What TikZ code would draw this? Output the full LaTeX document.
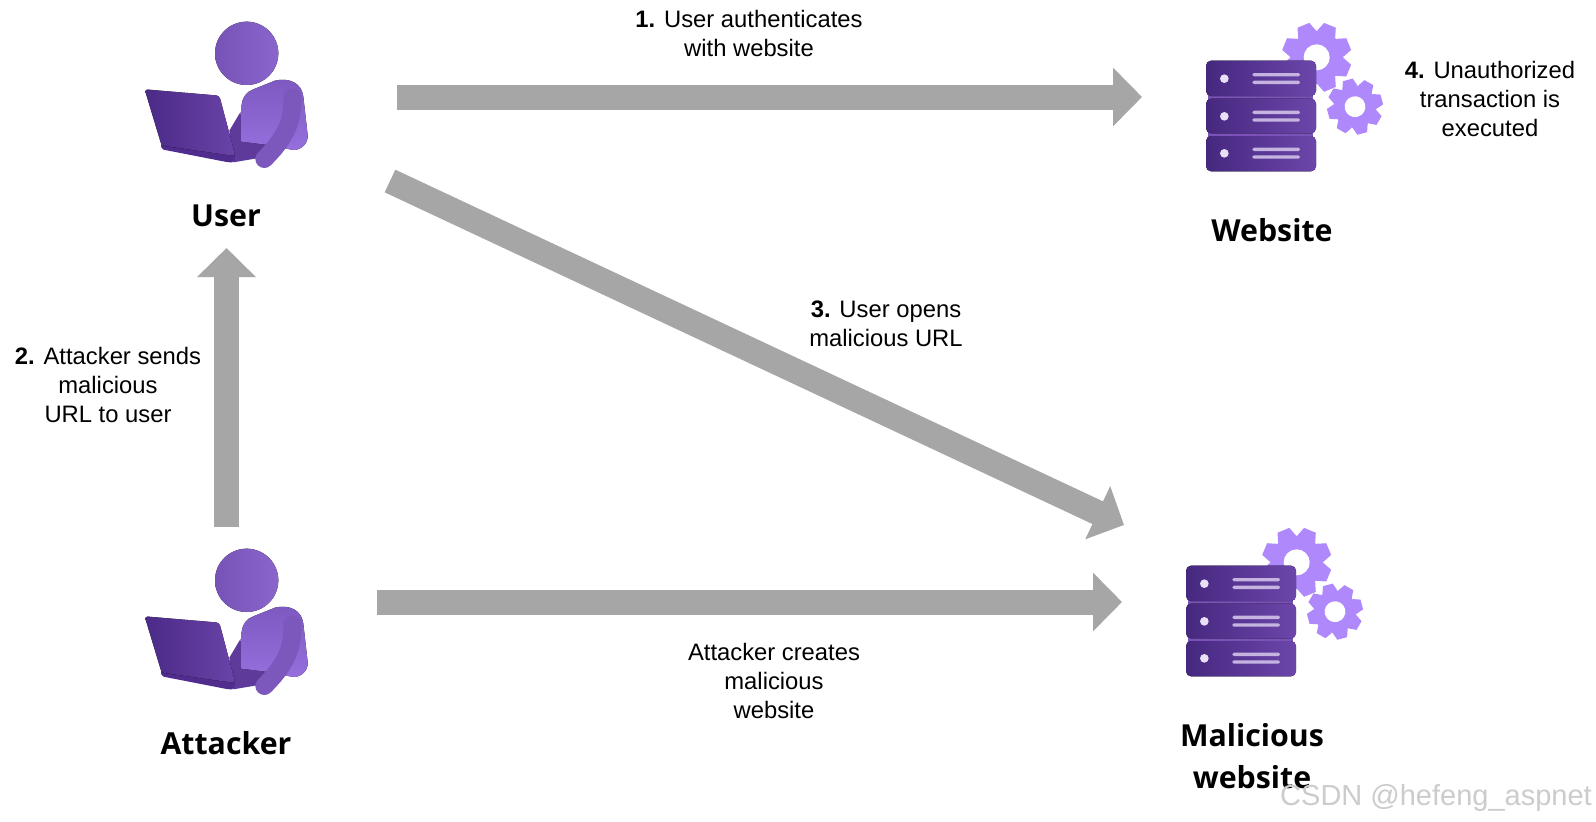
\documentclass[tikz,border=0pt]{standalone}
\usepackage{fontspec}
\setmainfont{Liberation Sans}
\newfontfamily\headfont{Open Sans}
\usetikzlibrary{arrows.meta}
\definecolor{flowgray}{HTML}{A6A6A6}
\definecolor{gearlilac}{HTML}{AF88FB}
\definecolor{rackdark}{HTML}{46287F}
\definecolor{racklight}{HTML}{6C46AA}
\definecolor{rackseam}{HTML}{7A52B8}
\definecolor{rackdot}{HTML}{E8E0F5}
\definecolor{rackline}{HTML}{C5B4E0}
\definecolor{headleft}{HTML}{7753B8}
\definecolor{headright}{HTML}{8A66CC}
\definecolor{bodytop}{HTML}{7D58C0}
\definecolor{bodylow}{HTML}{9570DD}
\definecolor{armpurple}{HTML}{7C58BD}
\definecolor{lapdark}{HTML}{5E3A9B}
\definecolor{screenleft}{HTML}{4B2A87}
\definecolor{screenright}{HTML}{6A43A8}
\definecolor{basedark}{HTML}{4F2C8D}
\newcommand{\gearat}[4]{
    \begin{scope}[shift={(#1,#2)},rotate=#4,scale=#3]
        \fill[gearlilac] (0,0) circle (80);
        \foreach \a in {0,45,...,315} {
                \fill[gearlilac,rotate=\a] (-29,-75) -- (-19,-104) -- (19,-104) -- (29,-75) -- cycle;
            }
        \fill[white] (0,0) circle (39);
    \end{scope}
}
\tikzset{
    flow/.style={-{Triangle[length=29pt,width=57pt]},line width=25pt,draw=flowgray},
    note/.style={inner sep=0pt,align=center,font=\fontsize{23.8}{29}\selectfont},
    title/.style={inner sep=0pt,align=center,font=\headfont\bfseries\fontsize{30.3}{42}\selectfont},
    person/.pic={
            \begin{scope}[scale=1/3]
                \fill[left color=headleft,right color=headright] (380,160) circle (95);
                \fill[lapdark] (362,335) -- (328,392) -- (340,487) -- (440,470) -- (450,430) -- (365,425) -- cycle;
                \fill[basedark,rounded corners=2pt] (122,430) -- (125,448) -- (325,487) -- (342,487) -- (346,460) -- cycle;
                \fill[left color=screenleft,right color=screenright,rounded corners=3pt] (74,268) -- (298,287) -- (346,468) -- (125,437) -- cycle;
                \fill[top color=bodytop,bottom color=bodylow] (365,425) -- (365,315) .. controls (368,290) and (380,275) .. (400,268) -- (465,242) .. controls (510,232) and (545,250) .. (550,290) -- (563,405) .. controls (565,430) and (545,450) .. (520,450) -- (445,435) -- cycle;
                \draw[armpurple,line width=18pt,line cap=round] (517,292) .. controls (520,370) and (490,420) .. (433,477);
            \end{scope}
        },
    server/.pic={
            \begin{scope}[scale=1/3]
                \gearat{410}{172}{1}{22.5}
                \gearat{525}{320}{0.8}{15}
                \fill[rackseam] (85,280) rectangle (400,412);
                \foreach \y/\h in {182/288, 296/400, 408/514} {
                        \fill[left color=rackdark,right color=racklight,rounded corners=5pt] (78,\y) rectangle (408,\h);
                    }
                \foreach \y in {236,349,460} {
                        \fill[rackdot] (133,\y) circle (13);
                        \fill[rackline,rounded corners=1.5pt] (217,\y-17) rectangle (360,\y-7);
                        \fill[rackline,rounded corners=1.5pt] (217,\y+6) rectangle (360,\y+16);
                    }
            \end{scope}
        },
}
\begin{document}
\begin{tikzpicture}[x=1pt,y=-1pt]
    \useasboundingbox[fill=white] (0,0) rectangle (1596,822);

    \pic (user) at (120,0) {person};
    \pic (attacker) at (120,527) {person};
    \pic (website) at (1180,0) {server};
    \pic (malicious) at (1160,505) {server};

    \node[title] (usertitle) at (226,216) {User};
    \node[title] (attackertitle) at (226,743) {Attacker};
    \node[title] (websitetitle) at (1272,230) {Website};
    \node[title] (malicioustitle) at (1252,756) {Malicious\\website};

    \coordinate (userright) at (397,97);
    \coordinate (websiteleft) at (1142,97);
    \coordinate (attackertop) at (226.5,527);
    \coordinate (userbottom) at (226.5,248);
    \coordinate (userdiag) at (390,181);
    \coordinate (maliciousdiag) at (1124,525);
    \coordinate (attackerright) at (377,602);
    \coordinate (maliciousleft) at (1122,602);

    \draw[flow] (userright) -- (websiteleft);
    \draw[flow] (attackertop) -- (userbottom);
    \draw[flow] (userdiag) -- (maliciousdiag);
    \draw[flow] (attackerright) -- (maliciousleft);

    \node[note] (authnote) at (749,33) {\textbf{1.} User authenticates\\with website};
    \node[note] (sendnote) at (108,385) {\textbf{2.} Attacker sends\\malicious\\URL to user};
    \node[note] (opennote) at (886,324) {\textbf{3.} User opens\\malicious URL};
    \node[note] (execnote) at (1490,99) {\textbf{4.} Unauthorized\\transaction is\\executed};
    \node[note] (createnote) at (774,681) {Attacker creates\\malicious\\website};

    \node[inner sep=0pt,text=black!20,font=\fontsize{29}{30}\selectfont] (watermark) at (1436,798) {CSDN @hefeng\_aspnet};
\end{tikzpicture}
\end{document}
